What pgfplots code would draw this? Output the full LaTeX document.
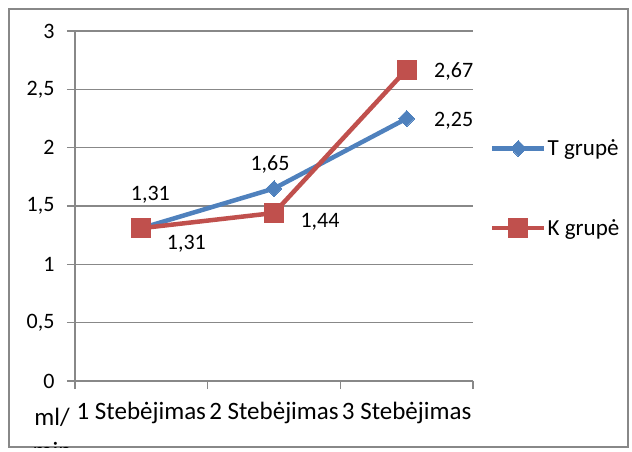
\documentclass[border=0pt]{standalone}
\usepackage{fontspec}
\setmainfont{Carlito}
\usepackage{pgfplots}
\pgfplotsset{compat=1.18}
\definecolor{tblue}{HTML}{4F81BD}
\definecolor{kred}{HTML}{C0504D}
\definecolor{gridg}{HTML}{888888}
\newcommand{\fs}{\fontsize{22}{26}\selectfont}
\newcommand{\fx}{\fontsize{25}{29}\selectfont}
\newcommand{\fl}{\fontsize{23}{27}\selectfont}
\begin{document}
\begin{tikzpicture}[font=\fs]
\useasboundingbox (-75pt,-70pt) rectangle (557pt,381pt);
\draw[gridg, line width=1.3pt] (-66pt,-66pt) rectangle (553pt,372pt);
\begin{axis}[
  at={(0pt,0pt)}, anchor=south west,
  scale only axis, width=398pt, height=350pt,
  xmin=-0.5, xmax=2.5, ymin=0, ymax=3,
  axis x line*=bottom, axis y line*=left,
  axis line style={gridg, line width=1.3pt, -},
  xtick={0,1,2},
  xticklabels={1 Stebėjimas,2 Stebėjimas,3 Stebėjimas},
  minor xtick={-0.5,0.5,1.5,2.5},
  x tick style={draw=none},
  minor x tick style={draw=gridg, line width=1.3pt},
  minor tick length=8pt,
  ytick={0,0.5,1,1.5,2,2.5,3},
  y tick style={gridg, line width=1.3pt},
  major tick length=8pt,
  tick align=outside,
  ymajorgrids,
  major grid style={gridg, line width=1.3pt},
  /pgf/number format/assume math mode=true,
  /pgf/number format/use comma,
  yticklabel style={font=\fs, anchor=east, xshift=-9pt},
  xticklabel style={font=\fx, anchor=north, yshift=-10pt, inner xsep=0pt},
  clip=false,
  legend style={at={(1.0427,0.551)}, anchor=west, draw=none, fill=none,
    inner sep=0pt, row sep=60pt, font=\fl,
    nodes={inner sep=1pt, anchor=west}},
  legend cell align=left,
  legend image code/.code={\draw[#1, mark repeat=2, mark phase=2] plot coordinates {(0pt,0pt) (26pt,0pt) (52pt,0pt)};},
]
\addplot[color=tblue, line width=4.5pt, mark=diamond*, mark size=8pt,
  mark options={xscale=1.33, solid, fill=tblue, line width=0pt}]
  coordinates {(0,1.31) (1,1.65) (2,2.25)};
\addlegendentry{T grupė}
\addplot[color=kred, line width=4.5pt, mark=square*, mark size=9.5pt,
  mark options={solid, fill=kred, line width=0pt}]
  coordinates {(0,1.31) (1,1.44) (2,2.67)};
\addlegendentry{K grupė}
\node at (axis cs:0,1.31) [xshift=9pt, yshift=33pt] {1,31};
\node at (axis cs:0,1.31) [xshift=45pt, yshift=-16pt] {1,31};
\node at (axis cs:1,1.65) [xshift=-4pt, yshift=24pt] {1,65};
\node at (axis cs:1,1.44) [xshift=46pt, yshift=-9pt] {1,44};
\node at (axis cs:2,2.67) [xshift=47pt, yshift=-2pt] {2,67};
\node at (axis cs:2,2.25) [xshift=47pt, yshift=-2pt] {2,25};
\end{axis}
\node[font=\fx] at (-23pt,-36pt) {ml/};
\begin{scope}
\clip (-66pt,-66pt) rectangle (553pt,372pt);
\node[anchor=north, font=\fx] at (-23pt,-58pt) {min};
\end{scope}
\end{tikzpicture}
\end{document}
